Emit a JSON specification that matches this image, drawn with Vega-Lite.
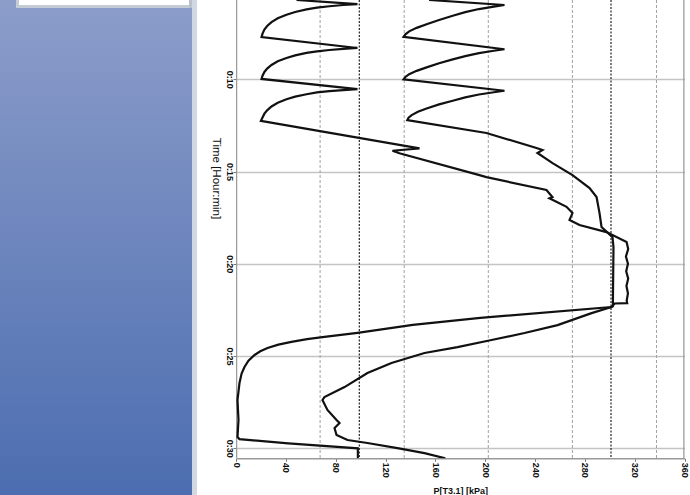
{
  "$schema": "https://vega.github.io/schema/vega-lite/v6.json",
  "padding": 0,
  "background": "white",
  "spacing": 12,
  "config": {"view": {"stroke": null}},
  "hconcat": [
    {
      "spacing": 0,
      "hconcat": [
        {
          "spacing": 0,
          "vconcat": [
            {
              "spacing": 0,
              "hconcat": [
                {"width": 16, "height": 8, "data": {"values": [{}]}, "mark": {"type": "rect", "color": "#8c9dca"}, "encoding": {}},
                {"width": 3, "height": 8, "data": {"values": [{}]}, "mark": {"type": "rect", "color": "#c6ccd6"}, "encoding": {}},
                {
                  "spacing": 0,
                  "vconcat": [
                    {"width": 170, "height": 5, "data": {"values": [{}]}, "mark": {"type": "rect", "color": "#ffffff"}, "encoding": {}},
                    {"width": 170, "height": 3, "data": {"values": [{}]}, "mark": {"type": "rect", "color": "#c6ccd6"}, "encoding": {}}
                  ]
                },
                {"width": 3, "height": 8, "data": {"values": [{}]}, "mark": {"type": "rect", "color": "#b9c0cc"}, "encoding": {}}
              ]
            },
            {
              "width": 192, "height": 487,
              "data": {"values": [{}]},
              "mark": {"type": "rect", "color": {"gradient": "linear", "x1": 0, "y1": 0, "x2": 0, "y2": 1, "stops": [{"offset": 0, "color": "#8b9cc9"}, {"offset": 1, "color": "#4c6db0"}]}},
              "encoding": {}
            }
          ]
        },
        {"width": 5, "height": 495, "data": {"values": [{}]}, "mark": {"type": "rect", "color": "#d2d8e2"}, "encoding": {}}
      ]
    },
    {
      "width": 448.5,
      "height": 458.3,
      "layer": [
        {
          "data": {"values": [{"P": 67.5}, {"P": 135}, {"P": 202.5}, {"P": 270}, {"P": 337.5}]},
          "mark": {"type": "rule", "color": "#a0a0a0", "strokeWidth": 1, "strokeDash": [3, 2], "clip": true},
          "encoding": {"x": {"field": "P", "type": "quantitative", "scale": {"domain": [0, 360], "nice": false, "zero": false}}}
        },
        {
          "data": {"values": [{"P": 0}, {"P": 360}]},
          "mark": {"type": "rule", "color": "#9a9a9a", "strokeWidth": 2.5, "clip": true},
          "encoding": {"x": {"field": "P", "type": "quantitative", "scale": {"domain": [0, 360], "nice": false, "zero": false}}}
        },
        {
          "data": {"values": [{"P": 99}, {"P": 301}]},
          "mark": {"type": "rule", "color": "#333333", "strokeWidth": 1.3, "strokeDash": [2, 1.5], "clip": true},
          "encoding": {"x": {"field": "P", "type": "quantitative", "scale": {"domain": [0, 360], "nice": false, "zero": false}}}
        },
        {
          "data": {"values": [
            {"s": "A", "i": 0, "t": 5.70, "P": 48.6},
            {"s": "A", "i": 1, "t": 5.92, "P": 97.5},
            {"s": "A", "i": 2, "t": 5.97, "P": 86},
            {"s": "A", "i": 3, "t": 6.04, "P": 75},
            {"s": "A", "i": 4, "t": 6.11, "P": 65},
            {"s": "A", "i": 5, "t": 6.21, "P": 56.6},
            {"s": "A", "i": 6, "t": 6.35, "P": 47.5},
            {"s": "A", "i": 7, "t": 6.50, "P": 40.5},
            {"s": "A", "i": 8, "t": 6.69, "P": 33.5},
            {"s": "A", "i": 9, "t": 6.90, "P": 28.5},
            {"s": "A", "i": 10, "t": 7.11, "P": 25},
            {"s": "A", "i": 11, "t": 7.30, "P": 22.8},
            {"s": "A", "i": 12, "t": 7.52, "P": 21.3},
            {"s": "A", "i": 13, "t": 7.71, "P": 20.5},
            {"s": "A", "i": 14, "t": 8.30, "P": 97.5},
            {"s": "A", "i": 15, "t": 8.35, "P": 86},
            {"s": "A", "i": 16, "t": 8.41, "P": 75},
            {"s": "A", "i": 17, "t": 8.48, "P": 65},
            {"s": "A", "i": 18, "t": 8.57, "P": 56.6},
            {"s": "A", "i": 19, "t": 8.70, "P": 47.5},
            {"s": "A", "i": 20, "t": 8.84, "P": 40.5},
            {"s": "A", "i": 21, "t": 9.02, "P": 33.5},
            {"s": "A", "i": 22, "t": 9.22, "P": 28.5},
            {"s": "A", "i": 23, "t": 9.42, "P": 25},
            {"s": "A", "i": 24, "t": 9.60, "P": 22.8},
            {"s": "A", "i": 25, "t": 9.80, "P": 21.3},
            {"s": "A", "i": 26, "t": 9.98, "P": 20.5},
            {"s": "A", "i": 27, "t": 10.53, "P": 97.5},
            {"s": "A", "i": 28, "t": 10.58, "P": 86},
            {"s": "A", "i": 29, "t": 10.64, "P": 75},
            {"s": "A", "i": 30, "t": 10.71, "P": 65},
            {"s": "A", "i": 31, "t": 10.81, "P": 56.6},
            {"s": "A", "i": 32, "t": 10.94, "P": 47.5},
            {"s": "A", "i": 33, "t": 11.08, "P": 40.5},
            {"s": "A", "i": 34, "t": 11.27, "P": 33.5},
            {"s": "A", "i": 35, "t": 11.47, "P": 28.5},
            {"s": "A", "i": 36, "t": 11.68, "P": 25},
            {"s": "A", "i": 37, "t": 11.86, "P": 22.8},
            {"s": "A", "i": 38, "t": 12.07, "P": 21.3},
            {"s": "A", "i": 39, "t": 12.25, "P": 20.0},
            {"s": "A", "i": 40, "t": 13.74, "P": 147.3},
            {"s": "A", "i": 41, "t": 13.87, "P": 125.6},
            {"s": "A", "i": 42, "t": 14.01, "P": 131.2},
            {"s": "A", "i": 43, "t": 15.19, "P": 195.4},
            {"s": "A", "i": 44, "t": 15.30, "P": 201.0},
            {"s": "A", "i": 45, "t": 16.00, "P": 249.2},
            {"s": "A", "i": 46, "t": 16.38, "P": 254.0},
            {"s": "A", "i": 47, "t": 16.45, "P": 251.6},
            {"s": "A", "i": 48, "t": 16.91, "P": 265.3},
            {"s": "A", "i": 49, "t": 17.25, "P": 270.1},
            {"s": "A", "i": 50, "t": 17.62, "P": 267.7},
            {"s": "A", "i": 51, "t": 17.90, "P": 275.7},
            {"s": "A", "i": 52, "t": 18.28, "P": 297.4},
            {"s": "A", "i": 53, "t": 18.82, "P": 313.5},
            {"s": "A", "i": 54, "t": 19.2, "P": 314.8},
            {"s": "A", "i": 55, "t": 19.6, "P": 313.0},
            {"s": "A", "i": 56, "t": 20.0, "P": 314.6},
            {"s": "A", "i": 57, "t": 20.4, "P": 313.2},
            {"s": "A", "i": 58, "t": 20.8, "P": 314.8},
            {"s": "A", "i": 59, "t": 21.2, "P": 313.4},
            {"s": "A", "i": 60, "t": 21.6, "P": 314.6},
            {"s": "A", "i": 61, "t": 22.0, "P": 313.6},
            {"s": "A", "i": 62, "t": 22.13, "P": 314.0},
            {"s": "A", "i": 63, "t": 22.15, "P": 304.0},
            {"s": "A", "i": 64, "t": 22.34, "P": 301.4},
            {"s": "A", "i": 65, "t": 22.93, "P": 196.1},
            {"s": "A", "i": 66, "t": 23.31, "P": 141.9},
            {"s": "A", "i": 67, "t": 23.74, "P": 97.5},
            {"s": "A", "i": 68, "t": 23.96, "P": 71.0},
            {"s": "A", "i": 69, "t": 24.08, "P": 57.0},
            {"s": "A", "i": 70, "t": 24.23, "P": 44.5},
            {"s": "A", "i": 71, "t": 24.38, "P": 34.0},
            {"s": "A", "i": 72, "t": 24.56, "P": 25.3},
            {"s": "A", "i": 73, "t": 24.74, "P": 19.5},
            {"s": "A", "i": 74, "t": 24.94, "P": 14.9},
            {"s": "A", "i": 75, "t": 25.25, "P": 10.0},
            {"s": "A", "i": 76, "t": 25.59, "P": 6.8},
            {"s": "A", "i": 77, "t": 25.95, "P": 4.5},
            {"s": "A", "i": 78, "t": 26.46, "P": 2.8},
            {"s": "A", "i": 79, "t": 27.38, "P": 1.2},
            {"s": "A", "i": 80, "t": 28.47, "P": 2.0},
            {"s": "A", "i": 81, "t": 29.39, "P": 1.2},
            {"s": "A", "i": 82, "t": 29.50, "P": 2.8},
            {"s": "A", "i": 83, "t": 29.73, "P": 42.0},
            {"s": "A", "i": 84, "t": 30.00, "P": 97.8},
            {"s": "A", "i": 85, "t": 30.54, "P": 97.8},
            {"s": "B", "i": 0, "t": 5.70, "P": 155},
            {"s": "B", "i": 1, "t": 5.97, "P": 215.5},
            {"s": "B", "i": 2, "t": 6.06, "P": 207},
            {"s": "B", "i": 3, "t": 6.19, "P": 195},
            {"s": "B", "i": 4, "t": 6.36, "P": 184},
            {"s": "B", "i": 5, "t": 6.55, "P": 174},
            {"s": "B", "i": 6, "t": 6.78, "P": 163},
            {"s": "B", "i": 7, "t": 7.01, "P": 153},
            {"s": "B", "i": 8, "t": 7.21, "P": 145},
            {"s": "B", "i": 9, "t": 7.40, "P": 139},
            {"s": "B", "i": 10, "t": 7.56, "P": 136},
            {"s": "B", "i": 11, "t": 7.70, "P": 134.5},
            {"s": "B", "i": 12, "t": 8.37, "P": 215.5},
            {"s": "B", "i": 13, "t": 8.45, "P": 207},
            {"s": "B", "i": 14, "t": 8.58, "P": 195},
            {"s": "B", "i": 15, "t": 8.74, "P": 184},
            {"s": "B", "i": 16, "t": 8.92, "P": 174},
            {"s": "B", "i": 17, "t": 9.13, "P": 163},
            {"s": "B", "i": 18, "t": 9.35, "P": 153},
            {"s": "B", "i": 19, "t": 9.54, "P": 145},
            {"s": "B", "i": 20, "t": 9.72, "P": 139},
            {"s": "B", "i": 21, "t": 9.87, "P": 136},
            {"s": "B", "i": 22, "t": 10.00, "P": 134.5},
            {"s": "B", "i": 23, "t": 10.62, "P": 215.5},
            {"s": "B", "i": 24, "t": 10.70, "P": 207},
            {"s": "B", "i": 25, "t": 10.82, "P": 195},
            {"s": "B", "i": 26, "t": 10.98, "P": 184},
            {"s": "B", "i": 27, "t": 11.16, "P": 174},
            {"s": "B", "i": 28, "t": 11.36, "P": 163},
            {"s": "B", "i": 29, "t": 11.58, "P": 153},
            {"s": "B", "i": 30, "t": 11.76, "P": 146},
            {"s": "B", "i": 31, "t": 11.94, "P": 141},
            {"s": "B", "i": 32, "t": 12.08, "P": 138.5},
            {"s": "B", "i": 33, "t": 12.21, "P": 137.5},
            {"s": "B", "i": 34, "t": 12.91, "P": 201},
            {"s": "B", "i": 35, "t": 13.72, "P": 241.2},
            {"s": "B", "i": 36, "t": 13.83, "P": 246},
            {"s": "B", "i": 37, "t": 13.99, "P": 242},
            {"s": "B", "i": 38, "t": 14.54, "P": 254.1},
            {"s": "B", "i": 39, "t": 15.19, "P": 270.1},
            {"s": "B", "i": 40, "t": 15.89, "P": 283.8},
            {"s": "B", "i": 41, "t": 16.38, "P": 289.4},
            {"s": "B", "i": 42, "t": 17.25, "P": 291.8},
            {"s": "B", "i": 43, "t": 18.00, "P": 293.4},
            {"s": "B", "i": 44, "t": 18.55, "P": 302.2},
            {"s": "B", "i": 45, "t": 19.09, "P": 303.0},
            {"s": "B", "i": 46, "t": 22.30, "P": 302.5},
            {"s": "B", "i": 47, "t": 22.34, "P": 301.4},
            {"s": "B", "i": 48, "t": 22.67, "P": 285.4},
            {"s": "B", "i": 49, "t": 23.32, "P": 258.1},
            {"s": "B", "i": 50, "t": 23.75, "P": 231.6},
            {"s": "B", "i": 51, "t": 24.13, "P": 205.1},
            {"s": "B", "i": 52, "t": 24.51, "P": 177.8},
            {"s": "B", "i": 53, "t": 24.83, "P": 151.3},
            {"s": "B", "i": 54, "t": 25.37, "P": 124.8},
            {"s": "B", "i": 55, "t": 25.92, "P": 105.5},
            {"s": "B", "i": 56, "t": 26.68, "P": 87.1},
            {"s": "B", "i": 57, "t": 27.22, "P": 71.0},
            {"s": "B", "i": 58, "t": 27.38, "P": 69.4},
            {"s": "B", "i": 59, "t": 27.92, "P": 73.4},
            {"s": "B", "i": 60, "t": 28.47, "P": 80.7},
            {"s": "B", "i": 61, "t": 28.63, "P": 83.1},
            {"s": "B", "i": 62, "t": 28.90, "P": 79.1},
            {"s": "B", "i": 63, "t": 29.28, "P": 80.7},
            {"s": "B", "i": 64, "t": 29.55, "P": 89.5},
            {"s": "B", "i": 65, "t": 29.71, "P": 105.5},
            {"s": "B", "i": 66, "t": 29.99, "P": 129.6},
            {"s": "B", "i": 67, "t": 30.26, "P": 151.3},
            {"s": "B", "i": 68, "t": 30.54, "P": 168.0}
          ]},
          "mark": {"type": "line", "color": "#111111", "strokeWidth": 2.2, "clip": true},
          "encoding": {
            "x": {
              "field": "P", "type": "quantitative",
              "scale": {"domain": [0, 360], "nice": false, "zero": false},
              "axis": {
                "values": [0, 40, 80, 120, 160, 200, 240, 280, 320, 360],
                "grid": false,
                "labelAngle": 90, "labelAlign": "left", "labelBaseline": "middle",
                "labelFont": "Liberation Sans", "labelFontSize": 9, "labelFontWeight": "bold", "labelColor": "#111111",
                "labelPadding": 1, "tickSize": 3, "tickColor": "#777777",
                "domainColor": "#999999", "domainWidth": 1.5,
                "title": "P[T3.1] [kPa]", "titleFont": "Liberation Sans", "titleFontSize": 9, "titleFontWeight": "bold", "titleColor": "#111111",
                "titleY": 28, "titleBaseline": "top"
              }
            },
            "y": {
              "field": "t", "type": "quantitative",
              "scale": {"domain": [5.70, 30.54], "nice": false, "zero": false, "reverse": true},
              "axis": {
                "values": [10, 15, 20, 25, 30],
                "grid": true, "gridColor": "#c4c4c4", "gridWidth": 1.5,
                "domain": false,
                "labelExpr": "'0:' + datum.value",
                "labelAngle": 90, "labelAlign": "center", "labelBaseline": "top",
                "labelFont": "Liberation Sans", "labelFontSize": 9, "labelFontWeight": "bold", "labelColor": "#111111",
                "labelPadding": 0, "tickSize": 3, "tickColor": "#777777",
                "title": "Time [Hour:min]", "titleFont": "Liberation Sans", "titleFontSize": 11.5, "titleFontWeight": "normal", "titleColor": "#111111",
                "titleAngle": 90, "titleBaseline": "top", "titleAlign": "center", "titleX": -15, "titleY": 178
              }
            },
            "detail": {"field": "s", "type": "nominal"},
            "order": {"field": "i", "type": "quantitative"}
          }
        }
      ]
    }
  ]
}
